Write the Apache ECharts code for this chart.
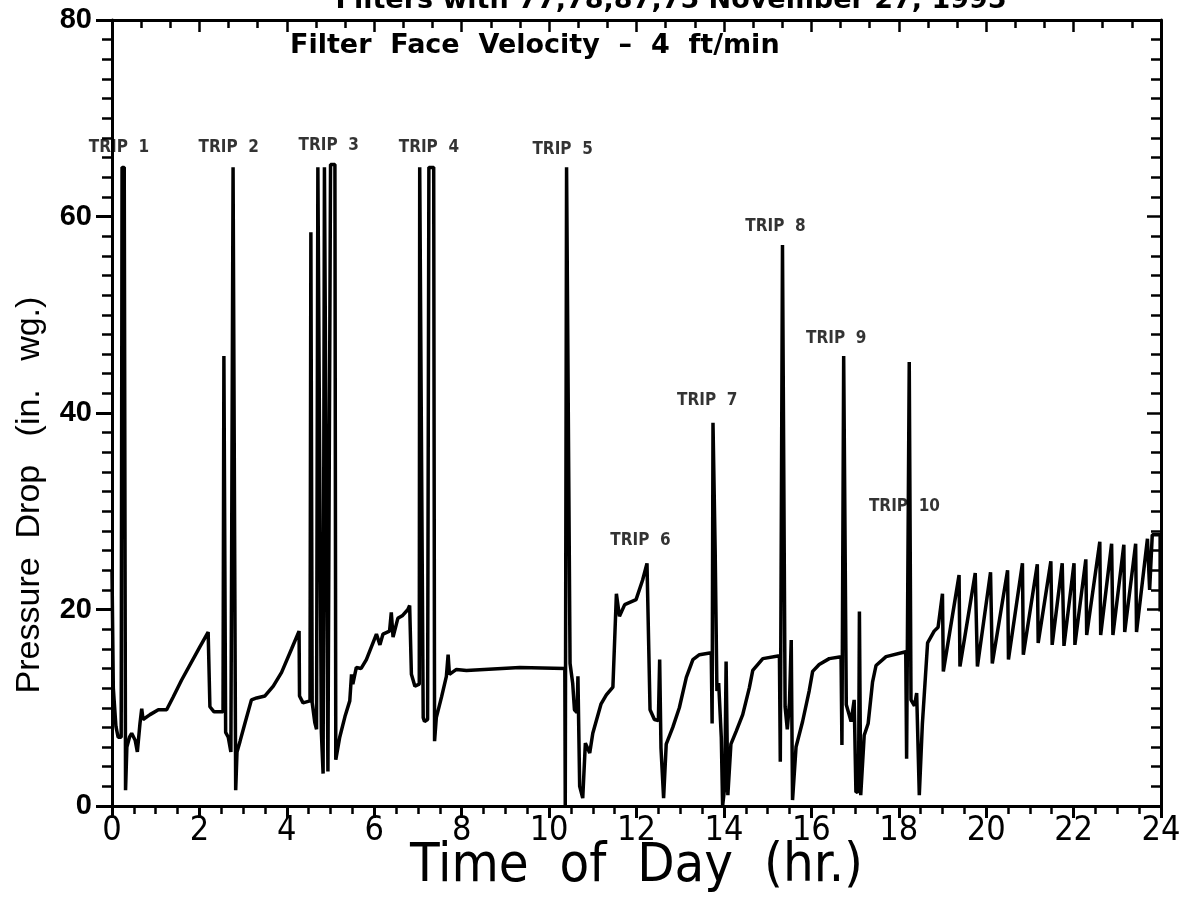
<!DOCTYPE html>
<html><head><meta charset="utf-8">
<script src="https://cdn.jsdelivr.net/npm/echarts@6/dist/echarts.min.js"></script>
<style>html,body{margin:0;padding:0;background:#fff}#c{width:1180px;height:900px}</style>
</head><body><div id="c"></div>
<script>
// Time of day (hr.)
const hours = [0,0.03,0.09,0.14,0.21,0.23,0.28,0.31,0.34,0.40,0.45,0.53,0.58,0.64,0.68,0.71,0.87,1.06,1.25,1.40,1.59,2.01,2.20,2.24,2.33,2.54,2.56,2.60,2.66,2.72,2.77,2.80,2.83,2.86,2.93,3.04,3.19,3.31,3.50,3.69,3.88,4.11,4.28,4.29,4.37,4.53,4.55,4.58,4.64,4.68,4.71,4.75,4.79,4.83,4.86,4.90,4.94,4.97,5.00,5.10,5.12,5.21,5.33,5.44,5.48,5.51,5.59,5.70,5.82,6.05,6.13,6.20,6.35,6.39,6.43,6.54,6.65,6.77,6.81,6.85,6.93,7.03,7.04,7.07,7.12,7.15,7.22,7.25,7.36,7.38,7.42,7.54,7.65,7.69,7.72,7.88,8.11,9.33,10.36,10.37,10.39,10.40,10.44,10.48,10.54,10.58,10.64,10.66,10.70,10.77,10.83,10.93,11.00,11.19,11.31,11.46,11.54,11.61,11.73,11.99,12.14,12.24,12.31,12.41,12.50,12.53,12.56,12.62,12.68,12.83,12.98,13.14,13.29,13.44,13.71,13.73,13.75,13.80,13.84,13.88,13.94,13.97,14.02,14.05,14.09,14.16,14.28,14.43,14.58,14.66,14.89,15.27,15.29,15.34,15.40,15.45,15.50,15.54,15.57,15.65,15.80,15.95,16.03,16.18,16.41,16.68,16.70,16.74,16.80,16.91,16.98,17.02,17.08,17.10,17.13,17.21,17.30,17.40,17.48,17.71,18.16,18.18,18.24,18.28,18.36,18.41,18.47,18.54,18.66,18.81,18.90,19.00,19.02,19.38,19.40,19.75,19.80,20.10,20.14,20.49,20.51,20.83,20.85,21.17,21.19,21.48,21.51,21.74,21.78,22.01,22.03,22.28,22.30,22.60,22.62,22.87,22.90,23.15,23.17,23.42,23.44,23.69,23.74,23.80,23.98,23.98,24.00];
// Pressure drop (in. wg.)
const pressure = [24,12,8.1,7.0,7.0,65,65,1.6,6.0,7.0,7.4,6.7,5.5,8.4,9.9,8.8,9.3,9.8,9.8,11.1,12.8,16.2,17.7,10.1,9.6,9.6,45.8,7.5,7.0,5.5,65,65,1.6,5.5,6.6,8.4,10.8,11.0,11.2,12.2,13.6,16.0,17.8,11.2,10.5,10.7,58.4,10.5,8.5,7.8,65,65,7.5,3.3,65,65,3.5,3.4,65.3,65.3,4.7,7.0,9.1,10.7,13.4,12.4,14.1,14.0,14.9,17.5,16.4,17.5,17.8,19.7,17.2,19.1,19.4,20.0,20.4,13.4,12.2,12.4,65,65,9.0,8.6,8.8,65,65,6.6,9.0,11.1,13.2,15.4,13.4,13.9,13.8,14.1,14.0,0,0,65,65,14.5,12.5,9.8,9.5,13.2,2.0,0.8,6.4,5.4,7.4,10.4,11.3,12.1,21.6,19.3,20.5,21.0,23.0,24.7,9.8,8.8,8.7,14.9,5.9,0.8,6.3,8.0,10.0,13.1,14.9,15.4,15.6,8.4,39.0,26,11.7,12.5,7.0,0,2,14.7,1.1,6.3,7.6,9.3,12.0,13.8,15.0,15.3,4.5,57.1,10.1,7.8,10.5,16.9,0.6,6.0,8.6,11.7,13.7,14.4,15.0,15.2,6.2,45.8,10.3,8.6,10.8,1.4,1.5,19.8,1.1,7.2,8.4,12.6,14.3,15.2,15.7,4.8,45.2,10.8,10.2,11.5,1.1,8.3,16.6,17.8,18.2,21.6,13.7,23.5,14.2,23.7,14.2,23.8,14.5,24.0,14.9,24.7,15.4,24.6,16.6,24.9,16.4,24.7,16.3,24.7,16.4,25.1,17.4,26.9,17.4,26.7,17.4,26.6,17.7,26.7,17.7,27.2,22.0,27.6,27.6,19.8,22];

const tripNames = ['TRIP  1','TRIP  2','TRIP  3','TRIP  4','TRIP  5','TRIP  6','TRIP  7','TRIP  8','TRIP  9','TRIP  10'];
const tripX = [0.16,2.67,4.96,7.25,10.31,12.09,13.62,15.18,16.57,18.13];
const tripY = [67.0,67.0,67.2,67.0,66.8,27.0,41.3,59.0,47.6,30.5];

const xTicks = [0,2,4,6,8,10,12,14,16,18,20,22,24];
const yTicks = [0,20,40,60,80];

const titleText = 'Filters with 77,78,87,75 November 27, 1995';
const noteText = 'Filter  Face  Velocity  \u2013  4  ft/min';
const xTitle = 'Time  of  Day  (hr.)';
const yTitle = 'Pressure  Drop   (in.   wg.)';

const lineData = hours.map((h,i)=>[h,pressure[i]]);
const tripData = tripX.map((x,i)=>({value:[x,tripY[i]], label:{formatter:tripNames[i]}}));

const narrow = "'Liberation Sans Narrow','DejaVu Sans Condensed','Liberation Sans',sans-serif";
const chart = echarts.init(document.getElementById('c'), null, {renderer:'canvas'});
const axLine = {show:true, onZero:false, lineStyle:{color:'#000', width:3}};
chart.setOption({
  animation:false,
  backgroundColor:'#fff',
  grid:{left:112, right:19, top:20, bottom:94, containLabel:false, outerBoundsMode:'none'},
  graphic:[
    {type:'text', x:671, y:-13, style:{text:titleText, font:"bold 27px 'DejaVu Sans', sans-serif", fill:'#000', textAlign:'center', textVerticalAlign:'top'}},
    {type:'text', x:290, y:32, style:{text:noteText, font:"bold 27px 'DejaVu Sans', sans-serif", fill:'#000', textVerticalAlign:'top'}},
    {type:'text', x:30, y:495, rotation:Math.PI/2, style:{text:yTitle, font:"34px 'Liberation Sans', sans-serif", fill:'#000', textAlign:'center', textVerticalAlign:'middle'}}
  ],
  xAxis:[
    {type:'value', position:'bottom', min:0, max:24, interval:2,
     axisLine:axLine,
     axisTick:{show:true, inside:false, length:12, lineStyle:{color:'#000', width:3}},
     minorTick:{show:true, splitNumber:4, length:8, lineStyle:{color:'#000', width:2.5}},
     splitLine:{show:false},
     axisLabel:{show:true, color:'#000', fontFamily:narrow, fontSize:34, margin:8,
       formatter:v=> xTicks.includes(v) ? String(v) : ''},
     name:xTitle, nameLocation:'middle', nameGap:34, nameMoveOverlap:false,
     nameTextStyle:{color:'#000', fontFamily:narrow, fontSize:54}},
    {type:'value', position:'top', min:0, max:24, interval:2,
     axisLine:axLine,
     axisTick:{show:true, inside:true, length:12, lineStyle:{color:'#000', width:2.5}},
     minorTick:{show:true, splitNumber:3, length:8, lineStyle:{color:'#000', width:2.5}},
     splitLine:{show:false}, axisLabel:{show:false}}
  ],
  yAxis:[
    {type:'value', position:'left', min:0, max:80, interval:20,
     axisLine:axLine,
     axisTick:{show:true, inside:false, length:16, lineStyle:{color:'#000', width:3}},
     minorTick:{show:true, splitNumber:10, length:10, lineStyle:{color:'#000', width:2.5}},
     splitLine:{show:false},
     axisLabel:{show:true, color:'#000', fontFamily:"'Liberation Sans', sans-serif", fontWeight:'bold', fontSize:29, margin:20,
       formatter:v=> yTicks.includes(v) ? String(v) : ''}},
    {type:'value', position:'right', min:0, max:80, interval:20,
     axisLine:axLine,
     axisTick:{show:true, inside:true, length:14, lineStyle:{color:'#000', width:2.5}},
     minorTick:{show:true, splitNumber:10, length:10, lineStyle:{color:'#000', width:2.5}},
     splitLine:{show:false}, axisLabel:{show:false}}
  ],
  series:[
    {type:'line', xAxisIndex:0, yAxisIndex:0, data:lineData, showSymbol:false, symbol:'none',
     lineStyle:{color:'#000', width:3.5}, itemStyle:{color:'#000'}, z:3},
    {type:'scatter', xAxisIndex:0, yAxisIndex:0, data:tripData, symbolSize:0, silent:true, z:4,
     label:{show:true, position:'inside', color:'#000', fontFamily:narrow, fontWeight:'bold', fontSize:17}}
  ]
});
</script></body></html>
